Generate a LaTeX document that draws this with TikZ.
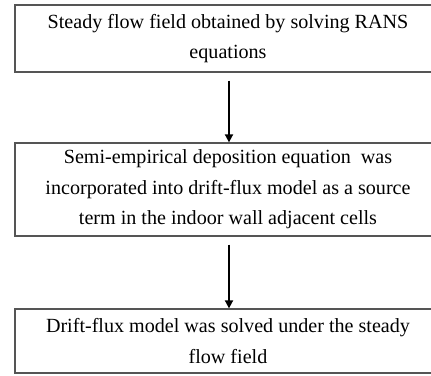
\documentclass[tikz,border=0pt]{standalone}
\usepackage{fontspec}
\setmainfont{Liberation Serif}
\usetikzlibrary{arrows.meta}
\definecolor{boxgray}{HTML}{555555}
\tikzset{
  stagebox/.style={draw=boxgray, line width=1.3bp, fill=white, minimum width=426bp, inner sep=0pt, align=center, font=\fontsize{20.1bp}{30.5bp}\selectfont},
  flowarrow/.style={draw=black, line width=1.8bp, -{Triangle[length=8bp,width=8bp]}, shorten <=8bp}
}
\begin{document}
\begin{tikzpicture}[x=1bp,y=-1bp]
\useasboundingbox (0,0) rectangle (431,376);
\clip (0,0) rectangle (431,376);
\node[stagebox, minimum height=67bp] (b1) at (228,38.5) {Steady flow field obtained by solving RANS\\equations};
\node[stagebox, minimum height=93bp] (b2) at (228,189.5) {Semi-empirical deposition equation\ \ was\\incorporated into drift-flux model as a source\\term in the indoor wall adjacent cells};
\node[stagebox, minimum height=64bp] (b3) at (228,341) {Drift-flux model was solved under the steady\\flow field};
\draw[flowarrow] (b1.south -| 229,0) -- (b2.north -| 229,0);
\draw[flowarrow] (b2.south -| 229,0) -- (b3.north -| 229,0);
\end{tikzpicture}
\end{document}
